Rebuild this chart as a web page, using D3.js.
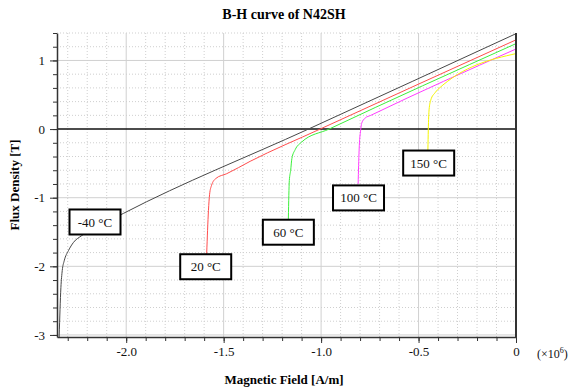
<!DOCTYPE html>
<html>
<head>
<meta charset="utf-8">
<script src="https://cdn.jsdelivr.net/npm/d3@7.9.0/dist/d3.min.js"></script>
<style>
  body { margin: 0; background: #fff; }
  svg { display: block; font-family: "Liberation Serif", "Times New Roman", serif; }
</style>
</head>
<body>
<svg id="chart" width="570" height="389"></svg>
<script>
// B-H demagnetisation curves, H in 1e6 A/m, B in T
const temps = ['-40 °C', '20 °C', '60 °C', '100 °C', '150 °C'];

const curveM40 = [[0, 1.39], [-1.065, 0], [-2.015, -1.23], [-2.228, -1.552], [-2.27, -1.65],
  [-2.296, -1.77], [-2.318, -1.92], [-2.328, -2.06], [-2.335, -2.31], [-2.344, -3.03]];
const curve20 = [[0, 1.30], [-1.005, 0], [-1.364, -0.47], [-1.484, -0.65], [-1.54, -0.72],
  [-1.562, -0.82], [-1.572, -0.95], [-1.578, -1.19], [-1.587, -1.82]];
const curve60 = [[0, 1.245], [-0.959, 0], [-1.10, -0.19], [-1.133, -0.30], [-1.150, -0.43],
  [-1.156, -0.60], [-1.163, -0.75], [-1.168, -1.31]];
const curve100 = [[0, 1.167], [-0.745, 0.20], [-0.774, 0.16], [-0.792, 0.083], [-0.797, -0.015],
  [-0.805, -0.31], [-0.81, -0.80]];
const curve150 = [[0, 1.10], [-0.40, 0.58], [-0.415, 0.53], [-0.437, 0.425], [-0.446, 0.28],
  [-0.45, -0.015], [-0.452, -0.307]];
const curves = [curveM40, curve20, curve60, curve100, curve150];

// where each temperature tag sits (data units, box centre)
const labelAt = [[-2.16, -1.354], [-1.592, -2.006], [-1.168, -1.503], [-0.808, -1.003], [-0.448, -0.495]];

const xMajor = [-2.0, -1.5, -1.0, -0.5, 0];
const yMajor = [1, 0, -1, -2, -3];

const colors = d3.scaleOrdinal(temps, ['#484848', '#ff4d4d', '#3cf03c', '#ff3cff', '#f5f500']);

const svg = d3.select('#chart');
const x = d3.scaleLinear().domain([-2.355, 0]).range([57, 516]);
const y = d3.scaleLinear().domain([-3.03, 1.4]).range([337, 33]);
const [x0, x1] = x.range();
const [y0, y1] = y.range();

const xMinor = d3.range(-23, 1).map(i => i / 10);
const yMinor = d3.range(-15, 8).map(i => i / 5);
const isMajorX = v => Math.abs(Math.round(v * 10) % 5) === 0;
const isMajorY = v => Math.abs(v - Math.round(v)) < 1e-6;

// grid
const grid = svg.append('g');
grid.selectAll('line.gx')
  .data(xMinor)
  .join('line')
  .attr('x1', d => x(d)).attr('x2', d => x(d))
  .attr('y1', y1).attr('y2', y0)
  .attr('stroke', d => isMajorX(d) ? '#d0d0d0' : '#cfcfcf')
  .attr('stroke-dasharray', d => isMajorX(d) ? null : '1,2');
grid.selectAll('line.gy')
  .data(yMinor.filter(d => d !== 0))
  .join('line')
  .attr('x1', x0).attr('x2', x1)
  .attr('y1', d => y(d)).attr('y2', d => y(d))
  .attr('stroke', d => isMajorY(d) ? '#d0d0d0' : '#cfcfcf')
  .attr('stroke-dasharray', d => isMajorY(d) ? null : '1,2');

// zero line
svg.append('line')
  .attr('x1', x0).attr('x2', x1)
  .attr('y1', y(0)).attr('y2', y(0))
  .attr('stroke', '#111').attr('stroke-width', 1.5);

// curves
const line = d3.line().x(d => x(d[0])).y(d => y(d[1])).curve(d3.curveMonotoneX);
svg.append('g')
  .selectAll('path')
  .data(curves)
  .join('path')
  .attr('d', d => line(d.slice().sort((a, b) => a[0] - b[0])))
  .attr('fill', 'none')
  .attr('stroke', (_d, i) => colors(temps[i]))
  .attr('stroke-width', 1);

// axes
const fmtX = d => d === 0 ? '0' : d.toFixed(1);
const styleAxis = g => {
  g.selectAll('.domain').attr('stroke', '#333').attr('stroke-width', 1.5);
  g.selectAll('.tick line').attr('stroke', '#333');
  g.selectAll('.tick text').attr('font-size', 13).attr('fill', '#111')
    .attr('font-family', '"Liberation Serif", serif');
};

svg.append('g')
  .attr('transform', `translate(0,${y0})`)
  .call(d3.axisBottom(x).tickValues(xMinor).tickSize(4).tickSizeOuter(0).tickFormat(''))
  .call(styleAxis);
svg.append('g')
  .attr('transform', `translate(0,${y0})`)
  .call(d3.axisBottom(x).tickValues(xMajor).tickSize(6).tickSizeOuter(0).tickPadding(4).tickFormat(fmtX))
  .call(styleAxis)
  .call(g => g.select('.domain').remove());

svg.append('g')
  .attr('transform', `translate(${x0},0)`)
  .call(d3.axisLeft(y).tickValues(yMinor).tickSize(4).tickSizeOuter(0).tickFormat(''))
  .call(styleAxis);
svg.append('g')
  .attr('transform', `translate(${x0},0)`)
  .call(d3.axisLeft(y).tickValues(yMajor).tickSize(7).tickSizeOuter(0).tickPadding(5).tickFormat(d => String(d)))
  .call(styleAxis)
  .call(g => g.select('.domain').remove());

// right frame
svg.append('line')
  .attr('x1', x1).attr('x2', x1).attr('y1', y1).attr('y2', y0)
  .attr('stroke', '#333').attr('stroke-width', 2);

// temperature tags
const tags = svg.append('g')
  .selectAll('g')
  .data(temps)
  .join('g')
  .attr('transform', (_d, i) => `translate(${x(labelAt[i][0])},${y(labelAt[i][1])})`);
tags.append('rect')
  .attr('x', -25.5).attr('y', -12.5).attr('width', 51).attr('height', 25)
  .attr('fill', '#fff').attr('stroke', '#000').attr('stroke-width', 2);
tags.append('text')
  .attr('text-anchor', 'middle').attr('dy', '0.35em')
  .attr('font-size', 13).attr('fill', '#111')
  .text(d => d);

// titles
svg.append('text')
  .attr('x', 284).attr('y', 19)
  .attr('text-anchor', 'middle')
  .attr('font-size', 14).attr('font-weight', 'bold')
  .text('B-H curve of N42SH');

svg.append('text')
  .attr('x', 284).attr('y', 384)
  .attr('text-anchor', 'middle')
  .attr('font-size', 13).attr('font-weight', 'bold')
  .text('Magnetic Field [A/m]');

svg.append('text')
  .attr('transform', `translate(19,${(y0 + y1) / 2}) rotate(-90)`)
  .attr('text-anchor', 'middle')
  .attr('font-size', 13).attr('font-weight', 'bold')
  .text('Flux Density [T]');

const unit = svg.append('text')
  .attr('x', 537).attr('y', 358)
  .attr('font-size', 12).attr('fill', '#111');
unit.append('tspan').text('(×10');
unit.append('tspan').attr('font-size', 8).attr('dy', -5).text('6');
unit.append('tspan').attr('dy', 5).text(')');
</script>
</body>
</html>
